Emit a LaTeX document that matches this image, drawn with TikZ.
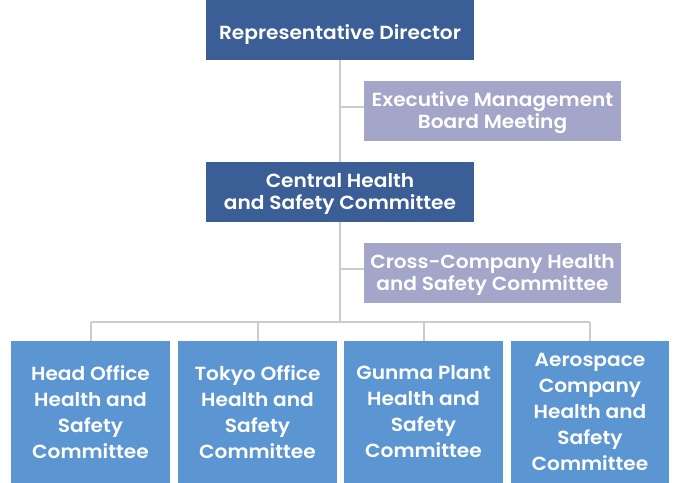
\documentclass[tikz,border=0pt]{standalone}
\usepackage{fontspec}
\setmainfont{Poppins}[UprightFont=* SemiBold,Ligatures=NoCommon,FakeStretch=1.06]
\definecolor{dkblue}{HTML}{3C5E97}
\definecolor{lav}{HTML}{A3A6C8}
\definecolor{ltblue}{HTML}{5B96D2}
\definecolor{lgray}{HTML}{CCCCCC}
\begin{document}
\begin{tikzpicture}[x=1pt,y=-1pt,
  box/.style={anchor=north west,inner sep=0pt,outer sep=0pt,text=white,align=center,font=\fontsize{19}{21.5}\selectfont},
  darkbox/.style={box,fill=dkblue,text depth=1.5pt},
  lavbox/.style={box,fill=lav,text depth=1.5pt},
  unitbox/.style={box,fill=ltblue,font=\fontsize{19}{26}\selectfont},
  conn/.style={draw=lgray,line width=2pt}]
\useasboundingbox (0,0) rectangle (680,482);
\node[darkbox,minimum width=268pt,minimum height=60pt,text height=20pt,text depth=2pt] (rd) at (206,0) {Representative Director};
\node[lavbox,minimum width=257pt,minimum height=60pt] (emb) at (364,81) {Executive Management\\Board Meeting};
\node[darkbox,minimum width=268pt,minimum height=60pt] (chs) at (206,162) {Central Health\\and Safety Committee};
\node[lavbox,minimum width=257pt,minimum height=60pt] (cchs) at (364,243) {Cross-Company Health\\and Safety Committee};
\node[unitbox,minimum width=159pt,minimum height=142pt] (ho) at (11,341) {Head Office\\Health and\\Safety\\Committee};
\node[unitbox,minimum width=159pt,minimum height=142pt] (to) at (178,341) {Tokyo Office\\Health and\\Safety\\Committee};
\node[unitbox,minimum width=159pt,minimum height=142pt] (gp) at (344,341) {Gunma Plant\\Health and\\Safety\\Committee};
\node[unitbox,minimum width=158pt,minimum height=142pt] (ac) at (511,341) {Aerospace\\Company\\Health and\\Safety\\Committee};
\coordinate (bus) at (340,322);
\coordinate (j1) at (340,107);
\coordinate (j2) at (340,269);
\draw[conn] (rd.south -| bus) -- (chs.north -| bus);
\draw[conn] (j1) -- (j1 -| emb.west);
\draw[conn] (chs.south -| bus) -- (bus);
\draw[conn] (j2) -- (j2 -| cchs.west);
\draw[conn] (bus -| ho.north) -- (bus -| ac.north);
\foreach \n in {ho,to,gp,ac} \draw[conn] (bus -| \n.north) -- (\n.north);
\end{tikzpicture}
\end{document}
